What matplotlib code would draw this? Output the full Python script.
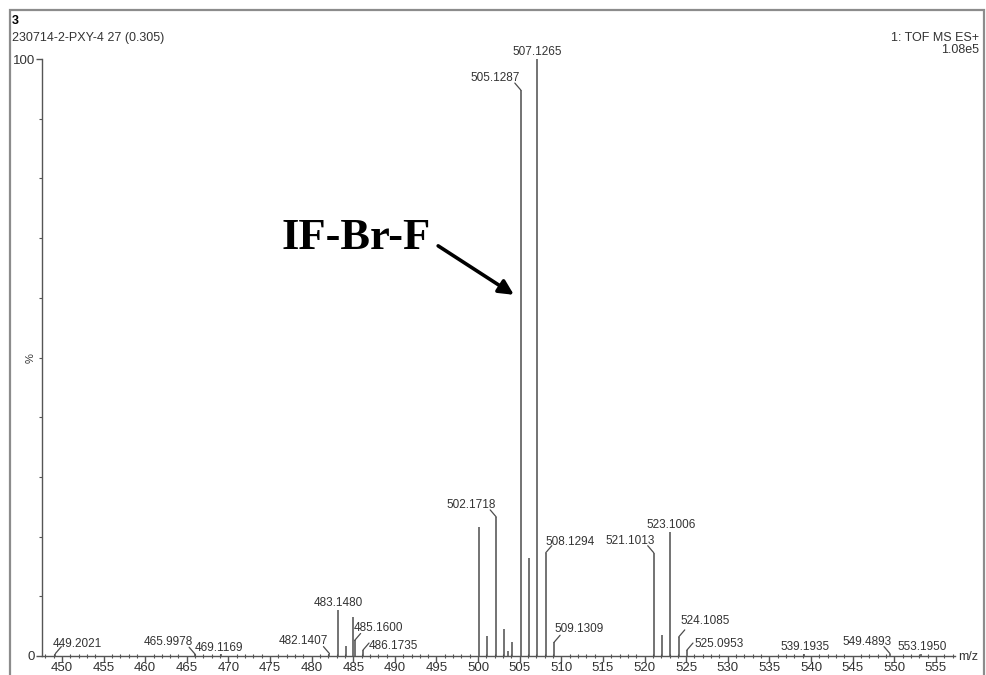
import matplotlib
matplotlib.use("Agg")
import matplotlib.pyplot as plt
from matplotlib.patches import Rectangle

plt.rcParams["font.family"] = ["Liberation Sans", "DejaVu Sans"]

# labelled centroid peaks (m/z, relative intensity %)
labeled_mz = [449.2021, 465.9978, 469.1169, 482.1407, 483.1480, 485.1600, 486.1735,
              502.1718, 505.1287, 507.1265, 508.1294, 509.1309, 521.1013, 523.1006,
              524.1085, 525.0953, 539.1935, 549.4893, 553.1950]
labeled_int = [0.4, 0.3, 0.3, 0.4, 7.7, 2.6, 1.0,
               23.3, 94.8, 100.0, 17.3, 2.3, 17.3, 20.8,
               3.2, 1.0, 0.4, 0.4, 0.3]

# unlabelled peaks
other_mz = [484.10, 485.02, 500.10, 501.05, 503.13, 503.55, 504.12, 506.13, 522.10]
other_int = [1.7, 6.5, 21.6, 3.4, 4.5, 0.8, 2.3, 16.4, 3.5]

x_ticks = list(range(450, 556, 5))

# label placement, pixels from the peak top (text centre)
label_dx = [22, -27, -2, -26, 0, 24, 30, -25, -26, 0, 24, 25, -24, 1, 26, 32, 1, -23, 1]
label_dy = [10, 12, 6, 13, 7, 12, 4, 12, 12, 7, 11, 13, 12, 7, 16, 6, 7, 12, 7]

ink = "#333333"
bar_col = "#4d4d4d"

fig = plt.figure(figsize=(9.87, 6.75), dpi=100)
W, H = 987, 675
ax = fig.add_axes([42 / W, 1 - 656 / H, (955 - 42) / W, (656 - 59) / H])

ax.vlines(labeled_mz + other_mz, 0, labeled_int + other_int, color=bar_col, lw=1.1)

for mz, inten, dx, dy in zip(labeled_mz, labeled_int, label_dx, label_dy):
    ax.annotate(f"{mz:.4f}", xy=(mz, inten), xytext=(dx, dy), textcoords="offset pixels",
                ha="center", va="center", fontsize=8.5, color=ink, annotation_clip=False)
    if abs(dx) > 10:
        side = 1 if dx > 0 else -1
        ax.annotate("", xy=(mz, inten), xytext=(side * 6, 7), textcoords="offset pixels",
                    arrowprops=dict(arrowstyle="-", color=bar_col, lw=0.9,
                                    shrinkA=0, shrinkB=0),
                    annotation_clip=False)

ax.set_xlim(447.6, 557.3)
ax.set_ylim(0, 100)
ax.spines["top"].set_visible(False)
ax.spines["right"].set_visible(False)
for s in ("left", "bottom"):
    ax.spines[s].set_color("#555555")
    ax.spines[s].set_linewidth(1.0)

ax.set_xticks(x_ticks)
ax.set_xticks(range(448, 558), minor=True)
ax.set_yticks([0, 100])
ax.set_yticks(range(10, 100, 10), minor=True)
ax.tick_params(axis="x", which="major", direction="out", length=4, width=1,
               color="#555555", labelsize=9.5, labelcolor=ink, pad=0.5)
ax.tick_params(axis="x", which="minor", direction="inout", length=3, width=0.8,
               color="#555555")
ax.tick_params(axis="y", which="major", direction="out", length=4, width=1,
               color="#555555", labelsize=9.5, labelcolor=ink, pad=1)
ax.tick_params(axis="y", which="minor", direction="out", length=2, width=0.8,
               color="#555555")

# compound annotation
ax.text(485.3, 70.1, "IF-Br-F", ha="center", va="center", fontsize=32,
        fontweight="bold", family=["Liberation Serif", "DejaVu Serif"], color="black")
ax.annotate("", xy=(504.3, 60.5), xytext=(495.2, 68.7),
            arrowprops=dict(arrowstyle="-|>", color="black", lw=2.6,
                            mutation_scale=22, shrinkA=0, shrinkB=0))

# header and axis captions
fig.text(12 / W, 1 - 21 / H, "3", fontsize=9, fontweight="bold", va="center", color="black")
fig.text(12 / W, 1 - 38 / H, "230714-2-PXY-4 27 (0.305)", fontsize=9, va="center", color=ink)
fig.text(979 / W, 1 - 38 / H, "1: TOF MS ES+", fontsize=9, ha="right", va="center", color=ink)
fig.text(979 / W, 1 - 50 / H, "1.08e5", fontsize=9, ha="right", va="center", color=ink)
fig.text(31 / W, 1 - 358 / H, "%", fontsize=8, rotation=90, ha="center", va="center", color=ink)
fig.text(958 / W, 1 - 657 / H, "m/z", fontsize=9, ha="left", va="center", color=ink)

# outer frame of the printout
fig.add_artist(Rectangle((10 / W, -0.05), (984 - 10) / W, 1 - 10 / H + 0.05,
                         transform=fig.transFigure, fill=False, edgecolor="#8c8c8c", lw=1.6))

fig.savefig("out.png", dpi=100)
